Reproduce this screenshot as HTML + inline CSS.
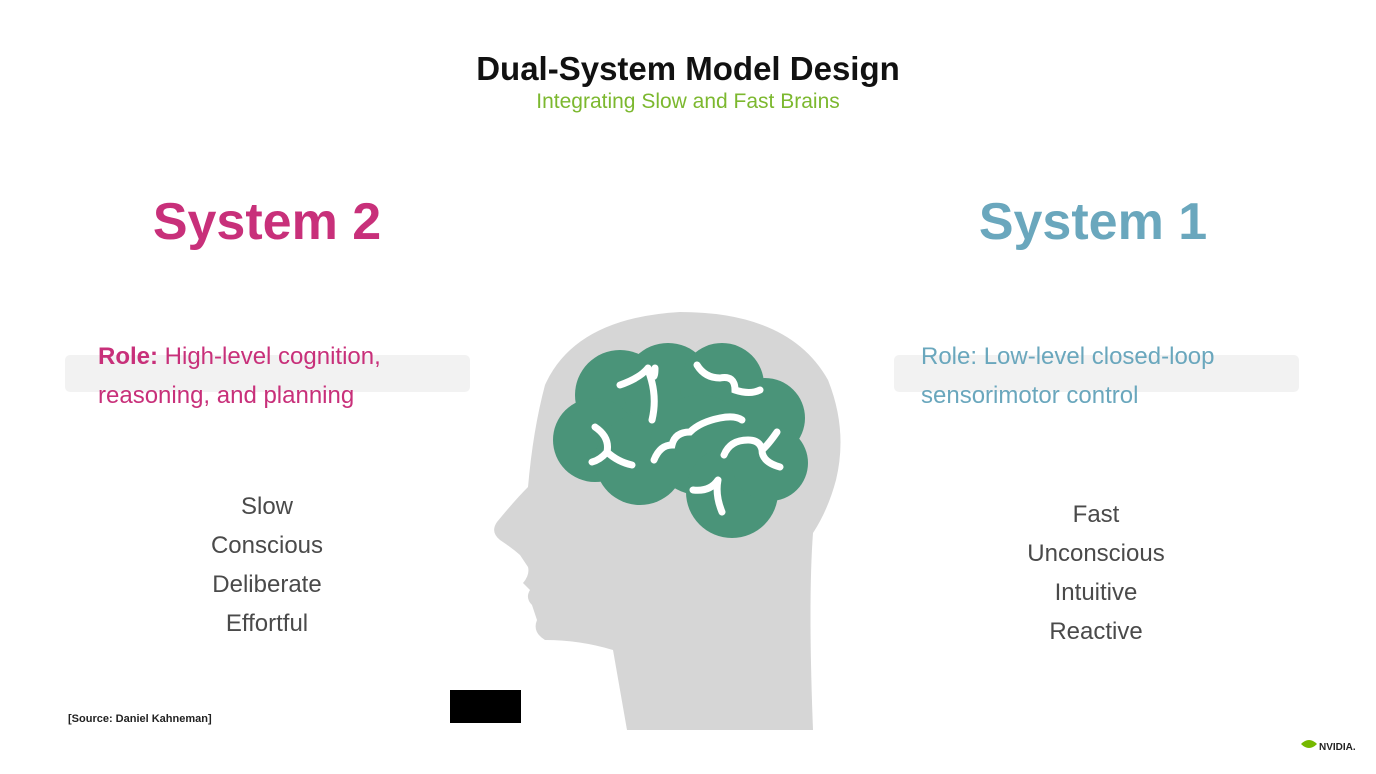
<!DOCTYPE html>
<html><head><meta charset="utf-8"><style>
body{margin:0;width:1376px;height:774px;background:#fff;position:relative;overflow:hidden;font-family:"Liberation Sans",sans-serif}
.a{position:absolute;white-space:nowrap}
.c{text-align:center}
.list{position:absolute;text-align:center;color:#4a4a4a;font-size:24px;line-height:39px}
</style></head><body>
<div class="a c" style="left:0;width:1376px;top:50px;font-size:33px;font-weight:bold;color:#111">Dual-System Model Design</div>
<div class="a c" style="left:0;width:1376px;top:90px;font-size:21px;color:#7cb82f">Integrating Slow and Fast Brains</div>
<div class="a c" style="left:67px;width:400px;top:192px;font-size:52px;font-weight:bold;color:#c8307a">System 2</div>
<div class="a c" style="left:893px;width:400px;top:192px;font-size:52px;font-weight:bold;color:#6aa7bd">System 1</div>
<div class="a" style="left:65px;top:355px;width:405px;height:37px;background:#f2f2f2;border-radius:5px"></div>
<div class="a" style="left:894px;top:355px;width:405px;height:37px;background:#f2f2f2;border-radius:5px"></div>
<div class="a" style="left:98px;top:337px;font-size:24px;line-height:39px;color:#c8307a"><b>Role:</b> High-level cognition,<br>reasoning, and planning</div>
<div class="a" style="left:921px;top:337px;font-size:24px;line-height:39px;color:#6aa7bd">Role: Low-level closed-loop<br>sensorimotor control</div>
<div class="list" style="left:117px;width:300px;top:487px">Slow<br>Conscious<br>Deliberate<br>Effortful</div>
<div class="list" style="left:946px;width:300px;top:495px">Fast<br>Unconscious<br>Intuitive<br>Reactive</div>
<svg class="a" style="left:0;top:0" width="1376" height="774">
<path d="M627 730 L613 650 Q580 640 545 640 Q532 632 537 620 L532 605 Q525 598 530 590 L523 583 Q530 575 528 567 L520 555 Q512 548 500 540 Q490 532 497 522 Q515 500 528 487 Q533 430 545 385 Q575 318 680 312 Q790 312 828 380 Q848 430 836 480 Q828 510 813 533 Q808 600 813 730 Z" fill="#d6d6d6"/>
<g fill="#4a9479">
<circle cx="620" cy="395" r="45"/><circle cx="668" cy="388" r="45"/><circle cx="722" cy="385" r="42"/><circle cx="765" cy="418" r="40"/>
<circle cx="595" cy="440" r="42"/><circle cx="640" cy="460" r="45"/><circle cx="700" cy="445" r="50"/><circle cx="732" cy="492" r="46"/><circle cx="770" cy="463" r="38"/>
</g>
<g fill="none" stroke="#fff" stroke-width="7" stroke-linecap="round">
<path d="M620 385 Q640 378 648 368 M648 368 Q655 385 655 368 M648 370 Q658 395 652 420"/>
<path d="M697 365 Q705 378 720 378 Q735 375 735 390 Q750 395 760 390"/>
<path d="M595 427 Q610 437 607 452 Q600 460 592 462 M607 452 Q618 462 632 465"/>
<path d="M654 460 Q660 445 672 445 Q675 432 690 432 Q700 422 720 418 Q735 415 742 420"/>
<path d="M724 455 Q730 440 748 440 Q760 440 762 450 Q768 445 777 432 M762 450 Q762 462 780 467"/>
<path d="M693 490 Q710 492 718 480 M718 480 Q715 495 722 512"/>
</g>
<rect x="450" y="690" width="71" height="33" fill="#000"/>
<path d="M1301 744 q8 -8 16 0 q-8 8 -16 0z" fill="#76b900"/>
</svg>
<div class="a" style="left:68px;top:713px;font-size:11px;font-weight:bold;color:#222">[Source: Daniel Kahneman]</div>
<div class="a" style="left:1319px;top:742px;font-size:10px;font-weight:bold;color:#222">NVIDIA.</div>
</body></html>
